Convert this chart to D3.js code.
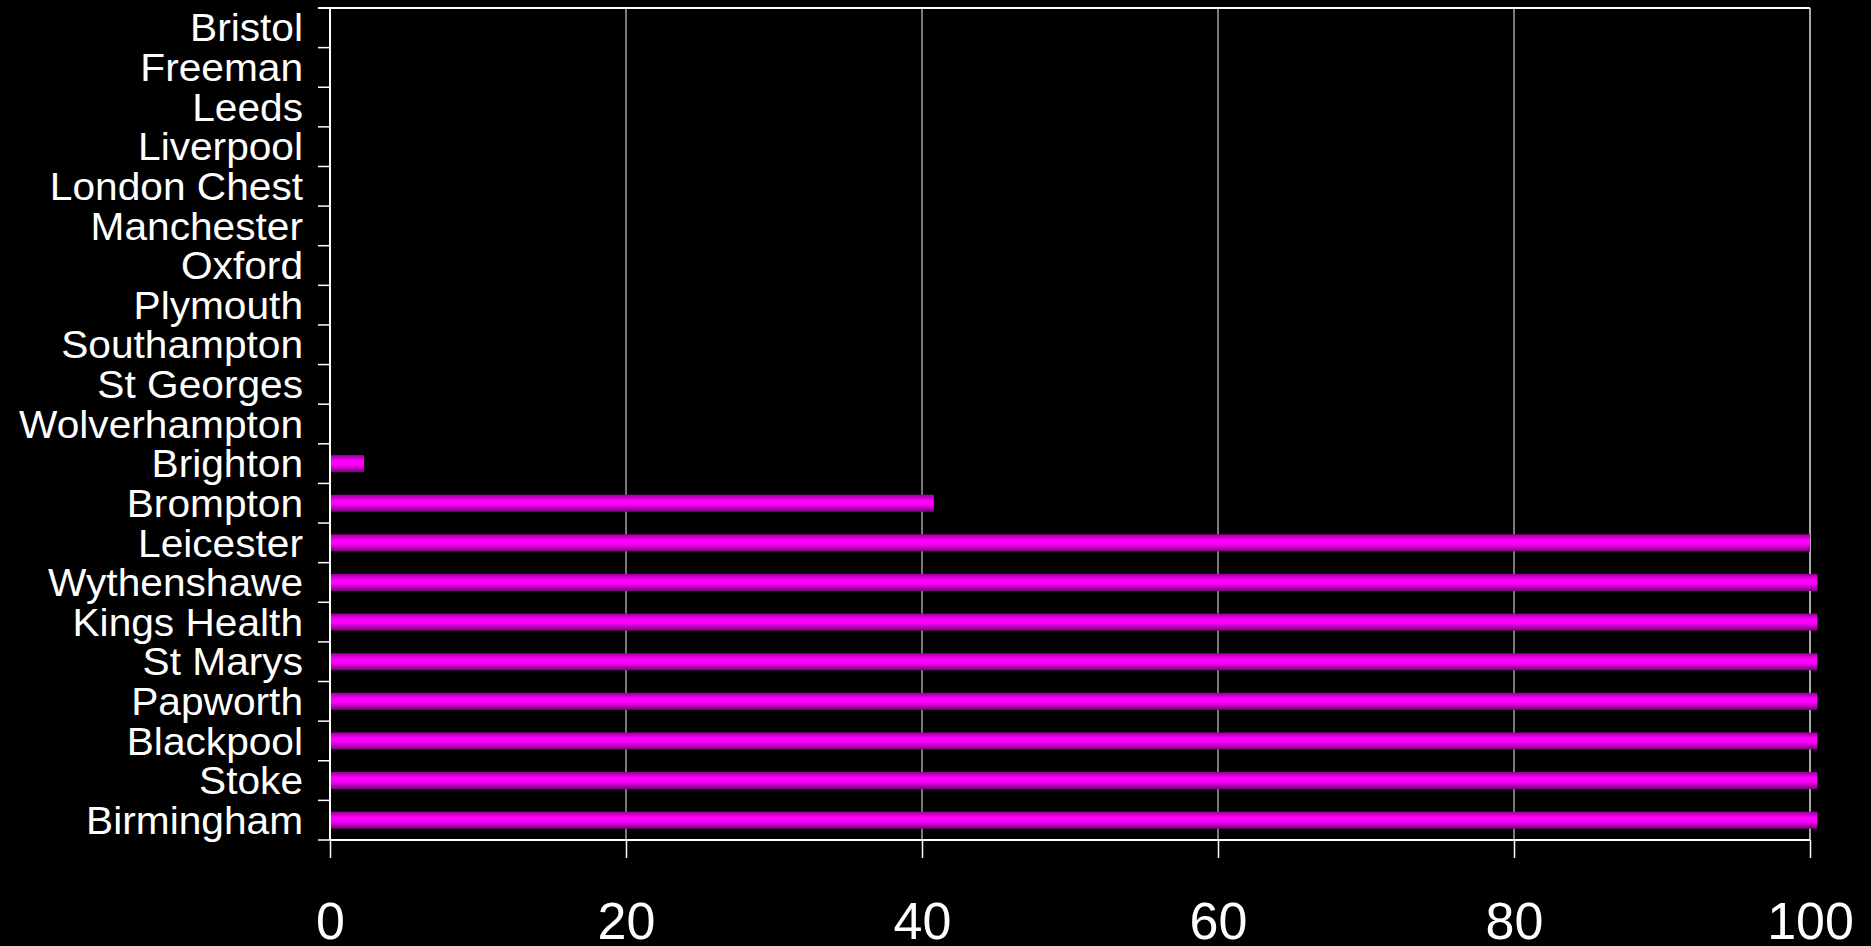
<!DOCTYPE html>
<html>
<head>
<meta charset="utf-8">
<script src="https://cdn.jsdelivr.net/npm/d3@7"></script>
<style>
  html, body { margin: 0; padding: 0; background: #000; }
  svg { display: block; }
</style>
</head>
<body>
<svg id="chart" width="1871" height="946"></svg>
<script>
const categories = ["Bristol","Freeman","Leeds","Liverpool","London Chest","Manchester","Oxford","Plymouth","Southampton","St Georges","Wolverhampton","Brighton","Brompton","Leicester","Wythenshawe","Kings Health","St Marys","Papworth","Blackpool","Stoke","Birmingham"];
const values = [0,0,0,0,0,0,0,0,0,0,0,2.3,40.8,100,100.5,100.5,100.5,100.5,100.5,100.5,100.5];
const xTicks = [0,20,40,60,80,100];

(function () {
const svg = d3.select("#chart");
const mLeft = 330, mRight = 1810, mTop = 8, mBottom = 840;

const x = d3.scaleLinear().domain([0,100]).range([mLeft, mRight]);
const y = d3.scaleBand().domain(categories).range([mTop, mBottom]).padding(0);

const defs = svg.append("defs");
const grad = defs.append("linearGradient").attr("id","barGrad").attr("x1",0).attr("y1",0).attr("x2",0).attr("y2",1);
grad.append("stop").attr("offset","0%").attr("stop-color","#9a009a");
grad.append("stop").attr("offset","35%").attr("stop-color","#ff00ff");
grad.append("stop").attr("offset","55%").attr("stop-color","#ff00ff");
grad.append("stop").attr("offset","100%").attr("stop-color","#7a007a");

// gridlines
svg.append("g").selectAll("line").data(xTicks.filter(d => d > 0)).join("line")
  .attr("x1", d => x(d)).attr("x2", d => x(d))
  .attr("y1", mTop).attr("y2", mBottom)
  .attr("stroke", d => d === 100 ? "#e0e0e0" : "#a0a0a0").attr("stroke-width", 1.5);

// top frame line
svg.append("line").attr("x1", mLeft - 12).attr("x2", x(100)).attr("y1", mTop).attr("y2", mTop)
  .attr("stroke", "#fff").attr("stroke-width", 2);

// bars
const barH = y.bandwidth() * 0.43;
svg.append("g").selectAll("rect").data(categories).join("rect")
  .attr("x", x(0))
  .attr("y", (d) => y(d) + (y.bandwidth() - barH) / 2)
  .attr("width", (d, i) => Math.max(0, x(values[i]) - x(0)))
  .attr("height", barH)
  .attr("fill", "url(#barGrad)");

// x axis
const xAxis = d3.axisBottom(x).tickValues(xTicks).tickSize(18).tickPadding(44).tickFormat(d3.format("d"));
const gx = svg.append("g").attr("transform", `translate(0,${mBottom})`).call(xAxis);
gx.select(".domain").attr("stroke", "#fff").attr("stroke-width", 2).attr("d", `M${mLeft},0H${mRight}`);
gx.selectAll(".tick line").attr("stroke", "#fff").attr("stroke-width", 1.5);
gx.selectAll(".tick text").attr("fill", "#fff").style("font-family", "Arial, 'Liberation Sans', sans-serif").style("font-size", "52px");

// y axis
const yAxis = d3.axisLeft(y).tickSize(0).tickPadding(0);
const gy = svg.append("g").attr("transform", `translate(${mLeft},0)`).call(yAxis);
gy.select(".domain").attr("stroke", "#fff").attr("stroke-width", 2).attr("d", `M0,${mTop}V${mBottom}`);
gy.selectAll(".tick text")
  .attr("fill", "#fff")
  .style("font-family", "Arial, 'Liberation Sans', sans-serif")
  .style("font-size", "38px")
  .attr("x", 0).attr("dy", "0.36em")
  .attr("transform", "translate(-27,0) scale(1.07,1)");

// y boundary ticks
const bounds = categories.map(c => y(c)).concat([mBottom]);
svg.append("g").selectAll("line").data(bounds).join("line")
  .attr("x1", mLeft - 12).attr("x2", mLeft)
  .attr("y1", d => d).attr("y2", d => d)
  .attr("stroke", "#fff").attr("stroke-width", 1.5);
})();
</script>
</body>
</html>
